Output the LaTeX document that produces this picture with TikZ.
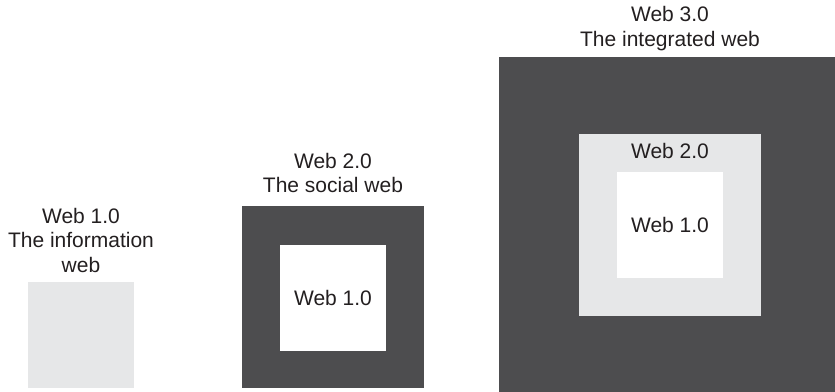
\documentclass[tikz,border=0pt]{standalone}
\usepackage{fontspec}
\setmainfont{Liberation Sans}
\usetikzlibrary{positioning}
\definecolor{webdark}{HTML}{4D4D4F}
\definecolor{weblight}{HTML}{E6E7E8}
\definecolor{webtext}{HTML}{231F20}

\begin{document}
\begin{tikzpicture}[x=1pt, y=-1pt,
    every node/.style={font=\fontsize{21}{24.5}\selectfont, text=webtext, inner sep=0pt},
    box/.style={draw=none, minimum width=#1, minimum height=#1},
    webcap/.style={align=center, text depth=0pt}]
    \path [use as bounding box, clip] (0,0) rectangle (835,391);

    % Web 1.0 alone
    \node [box=106pt, fill=weblight] (W1) at (81,334.5) {};
    \node [webcap, above=9pt of W1] (W1cap) {Web 1.0\\The information\\web};

    % Web 2.0 around Web 1.0
    \node [box=182pt, fill=webdark] (W2) at (333,297) {};
    \node [box=106pt, fill=white] (W2in) at (333,298) {Web 1.0};
    \node [webcap, above=13pt of W2] (W2cap) {Web 2.0\\The social web};

    % Web 3.0 around both
    \node [box=342pt, fill=webdark] (W3) at (670,228) {};
    \node [box=182pt, fill=weblight] (W3mid) at (670,225) {};
    \node [below=9pt of W3mid.north] (W3midtxt) {Web 2.0};
    \node [box=106pt, fill=white] (W3in) at (670,225) {Web 1.0};
    \node [webcap, above=10.5pt of W3] (W3cap) {Web 3.0\\The integrated web};
\end{tikzpicture}
\end{document}
